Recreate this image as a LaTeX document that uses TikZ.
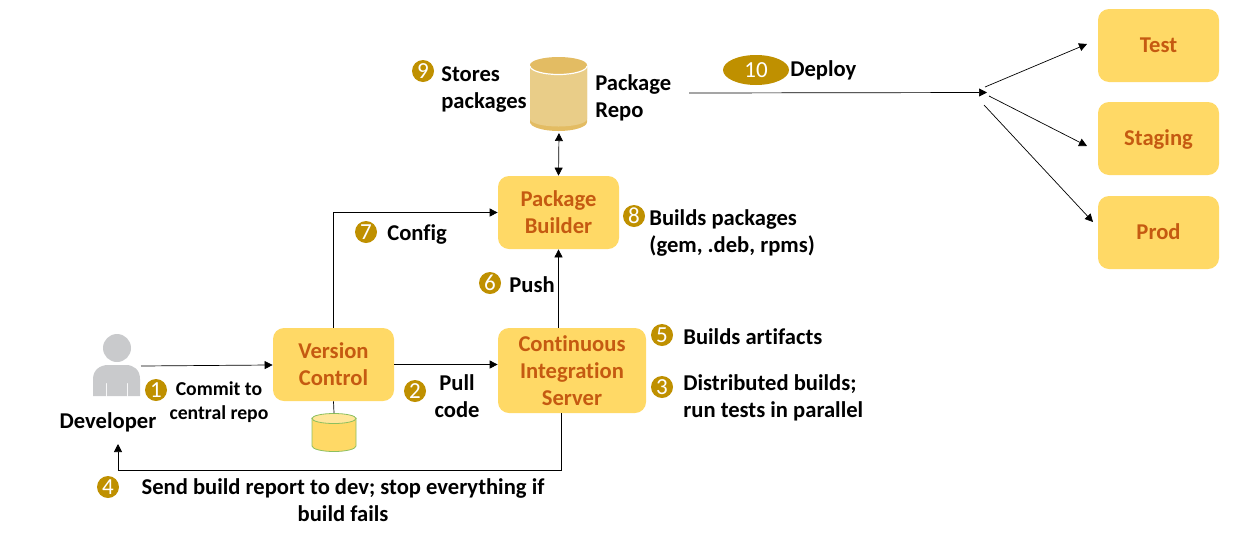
\documentclass[tikz,border=0pt]{standalone}
\usepackage{fontspec}
\setmainfont[Ligatures=CommonOff]{Carlito}
\usetikzlibrary{arrows.meta,shapes.geometric}
\definecolor{boxfill}{HTML}{FFD966}
\definecolor{boxtext}{HTML}{C55A11}
\definecolor{badgefill}{HTML}{BF9000}
\definecolor{devgray}{HTML}{C9CACC}
\definecolor{repobody}{HTML}{E9CD88}
\definecolor{repoband}{HTML}{E3BC63}
\definecolor{dbedge}{HTML}{8CBF5F}
\definecolor{dbtop}{HTML}{FFE699}
\tikzset{
	stagebox/.style={fill=boxfill, rounded corners=11pt, text=boxtext, align=center, inner sep=0pt,
		font=\fontsize{22.6}{27}\selectfont\bfseries},
	envbox/.style={stagebox, text height=15.5pt, text depth=2.5pt},
	badge/.style={circle, fill=badgefill, text=white, inner sep=0pt, minimum size=22pt,
		font=\fontsize{23}{23}\selectfont},
	note/.style={anchor=west, align=left, inner sep=0pt, font=\fontsize{22.6}{27}\selectfont\bfseries},
	smallnote/.style={align=center, inner sep=0pt, font=\fontsize{19.7}{24}\selectfont\bfseries},
}
\begin{document}
\begin{tikzpicture}[x=1pt,y=-1pt,>={Triangle[length=8pt,width=8pt]},line width=0.7pt]
	\useasboundingbox (0,0) rectangle (1233,539);
	% boxes
	\node[stagebox,minimum width=121pt,minimum height=73pt] (vc) at (333.5,364.5) {Version\\Control};
	\node[stagebox,minimum width=148pt,minimum height=85pt] (ci) at (572,370.5) {Continuous\\Integration\\Server};
	\node[stagebox,minimum width=121pt,minimum height=73pt] (pb) at (558.5,212.5) {Package\\Builder};
	\node[envbox,minimum width=121pt,minimum height=73pt] (test) at (1158.5,45.5) {Test};
	\node[envbox,minimum width=121pt,minimum height=73pt] (staging) at (1158.5,138.5) {Staging};
	\node[envbox,minimum width=121pt,minimum height=73pt] (prod) at (1158.5,232.5) {Prod};
	% developer
	\fill[devgray] (117,348) circle (14);
	\fill[devgray] (93,396) -- (93,379) .. controls (93,370) and (100,365) .. (108,365)
		-- (126,365) .. controls (134,365) and (140,370) .. (140,379) -- (140,396) -- (128,396)
		-- (128,383) -- (127,383) -- (127,396) -- (107,396) -- (107,383) -- (106,383) -- (106,396) -- cycle;
	\node[note,anchor=center] (dev) at (108,422.5) {Developer};
	% small db under version control
	\draw[dbedge,fill=boxfill,line width=0.8pt] (312,418) -- (312,446) arc[start angle=180,end angle=0,x radius=22,y radius=5.5]
		-- (356,418) -- cycle;
	\draw[dbedge,fill=dbtop,line width=0.8pt] (334,418.5) ellipse (22 and 5);
	\coordinate (dbtop) at (334,413);
	% package repo
	\fill[repoband] (530,65) arc[start angle=180,end angle=360,x radius=28.5,y radius=8]
		-- (587,122) arc[start angle=0,end angle=180,x radius=28.5,y radius=9] -- cycle;
	\fill[repobody] (530,67) arc[start angle=180,end angle=0,x radius=28.5,y radius=8]
		-- (587,119) arc[start angle=0,end angle=180,x radius=28.5,y radius=7.5] -- cycle;
	\draw[white,line width=1.2pt] (530,66) arc[start angle=180,end angle=0,x radius=28.5,y radius=8.5];
	\coordinate (repobot) at (559,133);
	\coordinate (repoout) at (689,93);
	% fan point
	\coordinate (fanin) at (987,92.5);
	\coordinate (fana) at (985,87);
	\coordinate (fanb) at (989,96);
	\coordinate (fanc) at (984,105);
	\coordinate (testin) at (1087,44);
	\coordinate (stagingin) at (1087,146);
	\coordinate (prodin) at (1093,222);
	\coordinate (devout) at (141,366);
	\coordinate (devin) at (118,444);
	% connectors
	\draw[->] (devout) -- (vc);
	\draw[->] (vc) -- (ci.west |- vc);
	\draw[->] (vc.north) |- (pb.west);
	\draw (vc.south) -- (dbtop);
	\draw[->] (pb |- ci.north) -- (pb.south);
	\draw[<->] (pb.north) -- (repobot);
	\draw[->] (561,413) |- (devin |- 0,470) -- (devin);
	\draw[->] (repoout) -- (fanin);
	\draw[->] (fana) -- (testin);
	\draw[->] (fanb) -- (stagingin);
	\draw[->] (fanc) -- (prodin);
	% numbers
	\foreach \n/\x/\y in {1/156/390,2/415/391,3/662/387,4/108/487,5/662/335,6/490/283,7/366/232,8/634/216,9/423/71}
		\node[badge] (badge\n) at (\x,\y) {\n};
	\node[badge,ellipse,minimum width=66pt,minimum height=30pt] (badge10) at (756,70) {10};
	% notes
	\node[smallnote] (commit) at (219,402.5) {Commit to\\central repo};
	\node[note,align=center,anchor=center] (pull) at (457,396) {Pull\\code};
	\node[note] (artifacts) at (683,337) {Builds artifacts};
	\node[note] (distributed) at (683,397.5) {Distributed builds;\\run tests in parallel};
	\node[note,align=center,anchor=center] (report) at (343,500) {Send build report to dev; stop everything if\\build fails};
	\node[note] (push) at (509,285) {Push};
	\node[note] (config) at (387,234) {Config};
	\node[note] (builds) at (649,233) {Builds packages\\(gem, .deb, rpms)};
	\node[note] (stores) at (441,89) {Stores\\packages};
	\node[note] (repo) at (595,98) {Package\\Repo};
	\node[note] (deploy) at (790,70) {Deploy};
\end{tikzpicture}
\end{document}
